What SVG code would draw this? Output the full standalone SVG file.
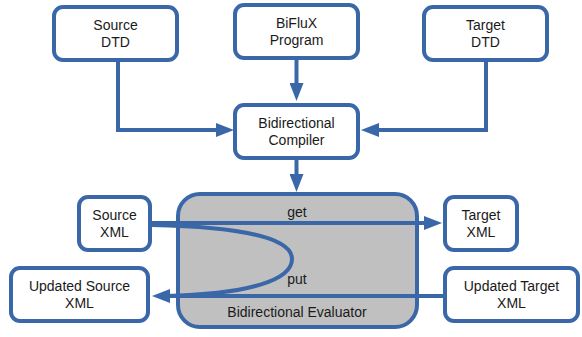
<svg xmlns="http://www.w3.org/2000/svg" width="582" height="337" viewBox="0 0 582 337">
<style>
.box{fill:#fff;stroke:#3A67A8;stroke-width:4}
.eval{fill:#C0C0C0;stroke:#3A67A8;stroke-width:4}
.conn{fill:none;stroke:#3A67A8;stroke-width:4}
text{font-family:"Liberation Sans",Arial,sans-serif;font-size:14px;fill:#1a1a1a;text-anchor:middle}
</style>
<defs>
<marker id="ah" markerUnits="userSpaceOnUse" markerWidth="18" markerHeight="14" refX="6" refY="7" orient="auto">
<path d="M0,0 L18,7 L0,14 z" fill="#3A67A8"/>
</marker>
</defs>
<g id="evaluator">
<rect class="eval" x="178" y="194" width="239" height="133" rx="22"/>
<text x="297" y="317">Bidirectional Evaluator</text>
</g>
<g id="connectors">
<path class="conn" d="M118,60 V130 H222" marker-end="url(#ah)"/>
<path class="conn" d="M486,60 V130 H373" marker-end="url(#ah)"/>
<path class="conn" d="M296.5,58 V89" marker-end="url(#ah)"/>
<path class="conn" d="M296.5,158 V180" marker-end="url(#ah)"/>
<path class="conn" d="M150,223 H430" marker-end="url(#ah)"/>
<path class="conn" d="M445,296 H164" marker-end="url(#ah)"/>
<path class="conn" d="M152,225 C250,227 292,240 292,259 C292,280 250,294 165,296"/>
<text x="297" y="217">get</text>
<text x="297" y="284">put</text>
</g>
<g id="source-dtd">
<rect class="box" x="54" y="7" width="123" height="53" rx="9"/>
<text x="115.5" y="30">Source</text>
<text x="115.5" y="47">DTD</text>
</g>
<g id="biflux">
<rect class="box" x="235" y="5" width="123" height="53" rx="9"/>
<text x="296.5" y="28">BiFluX</text>
<text x="296.5" y="45">Program</text>
</g>
<g id="target-dtd">
<rect class="box" x="424" y="7" width="123" height="53" rx="9"/>
<text x="485.5" y="30">Target</text>
<text x="485.5" y="47">DTD</text>
</g>
<g id="compiler">
<rect class="box" x="235" y="105" width="123" height="53" rx="9"/>
<text x="296.5" y="128">Bidirectional</text>
<text x="296.5" y="145">Compiler</text>
</g>
<g id="source-xml">
<rect class="box" x="79" y="197" width="71" height="53" rx="9"/>
<text x="114.5" y="220">Source</text>
<text x="114.5" y="237">XML</text>
</g>
<g id="updated-source-xml">
<rect class="box" x="11" y="268" width="137" height="53" rx="9"/>
<text x="79.5" y="291">Updated Source</text>
<text x="79.5" y="308">XML</text>
</g>
<g id="target-xml">
<rect class="box" x="445" y="197" width="72" height="53" rx="9"/>
<text x="481" y="220">Target</text>
<text x="481" y="237">XML</text>
</g>
<g id="updated-target-xml">
<rect class="box" x="445" y="268" width="133" height="53" rx="9"/>
<text x="511.5" y="291">Updated Target</text>
<text x="511.5" y="308">XML</text>
</g>
</svg>
